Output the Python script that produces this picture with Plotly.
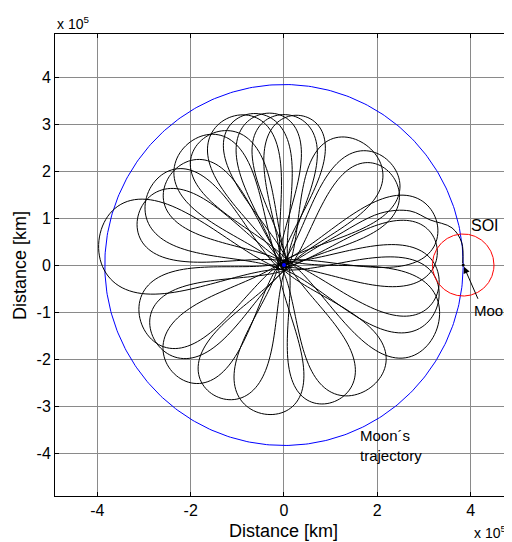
import numpy as np
import plotly.graph_objects as go

# ---- data (distances in units of 1e5 km) ----
moon_orbit_radius = 3.84
soi_radius = 0.66
moon_pos = [3.84, 0.0]

# petals of the spacecraft trajectory: direction (deg), reach, max width, base offset
petal_angle = [172, 160, 150, 141, 128, 121, 110, 104, 97, 90, 84, 56, 44, 40, 16, 6, -8, -14, -24,
               -55, -70, -97, -118, -136, -150, -157]
petal_reach = [4.0, 3.3, 3.3, 3.1, 3.3, 3.2, 3.35, 3.3, 3.25, 3.2, 3.2, 3.1, 3.15, 3.0, 3.4, 3.3, 3.35, 3.4, 3.55,
               3.2, 3.1, 3.2, 3.15, 3.3, 3.2, 3.3]
petal_width = [2.0, 1.5, 1.6, 1.5, 1.6, 1.5, 1.5, 1.4, 1.4, 1.4, 1.3, 1.6, 1.5, 1.4, 1.5, 1.4, 1.5, 1.6, 1.8,
               1.6, 1.4, 1.5, 1.4, 1.5, 1.5, 1.6]
petal_offset = [0.10, -0.08, 0.12, -0.05, 0.08, -0.12, 0.05, -0.10, 0.12, -0.06, 0.09, -0.10, 0.06, -0.12,
                0.10, -0.05, 0.08, -0.10, 0.12, -0.08, 0.10, -0.12, 0.06, -0.09, 0.11, -0.06]

# final approach into the Moon's sphere of influence
approach_x = [0.0, 1.0, 2.06, 2.7, 3.13, 3.6, 3.81, 3.83]
approach_y = [0.0, 0.55, 1.1, 1.15, 0.96, 0.79, 0.47, 0.04]

x_ticks = [-4, -2, 0, 2, 4]
y_ticks = [-4, -3, -2, -1, 0, 1, 2, 3, 4]

# ---- build trajectory ----
t = np.linspace(0, 2 * np.pi, 120)
tx, ty = [], []
for ang, R, D, off in zip(petal_angle, petal_reach, petal_width, petal_offset):
    u = R * (1 - np.cos(t)) / 2
    v = (D / 2) / 0.6495 * np.sin(t) * (1 - np.cos(t)) / 2 + off * (1 + np.cos(t)) / 2
    a = np.radians(ang)
    tx.extend(u * np.cos(a) - v * np.sin(a))
    ty.extend(u * np.sin(a) + v * np.cos(a))
tx.extend(approach_x)
ty.extend(approach_y)

th = np.linspace(0, 2 * np.pi, 400)

fig = go.Figure()
fig.add_trace(go.Scatter(x=moon_orbit_radius * np.cos(th), y=moon_orbit_radius * np.sin(th),
                         mode="lines", line=dict(color="#0000ff", width=1), hoverinfo="skip"))
fig.add_trace(go.Scatter(x=tx, y=ty, mode="lines", line=dict(color="black", width=1),
                         line_shape="spline", hoverinfo="skip"))
fig.add_trace(go.Scatter(x=moon_pos[0] + soi_radius * np.cos(th), y=moon_pos[1] + soi_radius * np.sin(th),
                         mode="lines", line=dict(color="#ff0000", width=1), hoverinfo="skip"))
fig.add_trace(go.Scatter(x=[0], y=[0], mode="markers", marker=dict(color="#0000ff", size=4)))
fig.add_trace(go.Scatter(x=[moon_pos[0]], y=[moon_pos[1]], mode="markers",
                         marker=dict(color="black", size=3)))

font = "Liberation Sans, Arial, sans-serif"
ann = [
    dict(x=4.30, y=0.83, text="SOI", showarrow=False, font=dict(size=16)),
    dict(x=3.84, y=0.0, ax=4.17, ay=-0.75, axref="x", ayref="y", text="", showarrow=True,
         arrowhead=2, arrowsize=1.3, arrowwidth=1, arrowcolor="black", standoff=2),
    dict(x=4.02, y=-0.96, text="Moon", showarrow=False, xanchor="left", font=dict(size=15)),
    dict(x=1.58, y=-3.83, text="Moon´s<br>trajectory", showarrow=False, xanchor="left", align="left",
         font=dict(size=15)),
    dict(x=0.5, xref="paper", y=-0.05, yref="paper", text="Distance [km]", showarrow=False,
         yanchor="top", font=dict(size=18)),
    dict(x=-0.0766, xref="paper", y=0.5, yref="paper", text="Distance [km]", showarrow=False,
         textangle=-90, xanchor="center", font=dict(size=18)),
    dict(x=0.0, xref="paper", y=1.0, yref="paper", text="x 10<sup>5</sup>", showarrow=False,
         xanchor="left", yanchor="bottom", font=dict(size=14)),
    dict(x=0.913, xref="paper", y=-0.054, yref="paper", text="x 10<sup>5</sup>", showarrow=False,
         xanchor="left", yanchor="top", font=dict(size=14)),
]

axis_common = dict(showgrid=True, gridcolor="#8a8a8a", gridwidth=1, zeroline=False,
                   showline=True, linecolor="black", linewidth=1, mirror="ticks",
                   ticks="inside", ticklen=4, tickcolor="black", tickfont=dict(size=16, color="black"))

# the page adds an 8px body margin, so the figure is 8px smaller than the window
fig.update_layout(
    width=504, height=534, autosize=False,
    margin=dict(l=47, r=0, t=26, b=46),
    paper_bgcolor="white", plot_bgcolor="white",
    showlegend=False,
    font=dict(family=font, color="black"),
    annotations=ann,
    xaxis=dict(range=[-4.907, 4.886], tickvals=x_ticks, ticktext=[str(v) for v in x_ticks], **axis_common),
    yaxis=dict(range=[-4.915, 4.915], tickvals=y_ticks, ticktext=[str(v) for v in y_ticks], **axis_common),
)

fig.write_html("out.html")
